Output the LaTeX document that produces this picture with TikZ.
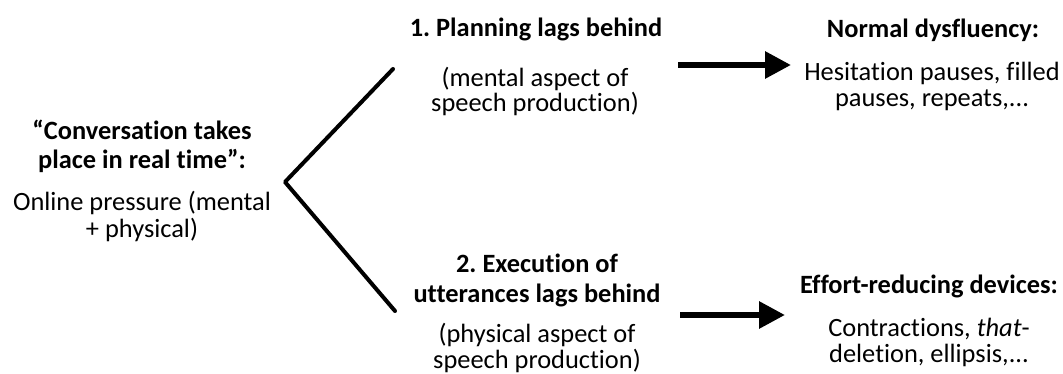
\documentclass[tikz,border=0pt]{standalone}
\usepackage{fontspec}
\setmainfont{Carlito}[Ligatures=NoCommon]
\usetikzlibrary{arrows.meta}
\frenchspacing
\begin{document}
\begin{tikzpicture}[x=1pt,y=-1pt,
  head/.style={font=\fontsize{26.4}{30}\selectfont\bfseries, align=center, inner sep=0pt, anchor=base},
  body/.style={font=\fontsize{26.4}{25.5}\selectfont, align=center, inner sep=0pt, anchor=base},
  branch/.style={line width=4pt, line cap=round, line join=round},
  flow/.style={line width=6pt, -{Triangle[length=26pt,width=26pt]}}]
\path[use as bounding box, fill=white] (0,0) rectangle (1063,374);

% left block (anchors sit on the last line's baseline)
\node[head, font=\fontsize{26.4}{29}\selectfont\bfseries] (cause) at (142,169) {“Conversation takes\\place in real time”:};
\node[body, font=\fontsize{26.4}{28}\selectfont] (causebody) at (142,238) {Online pressure (mental\\+ physical)};

% middle blocks
\node[head] (plan) at (536,37) {1. Planning lags behind};
\node[body] (planbody) at (535,112) {(mental aspect of\\speech production)};
\node[head] (exec) at (537,302) {2. Execution of\\utterances lags behind};
\node[body] (execbody) at (537,368) {(physical aspect of\\speech production)};

% right blocks
\node[head] (dys) at (933,38) {Normal dysfluency:};
\node[body, font=\fontsize{26.4}{26}\selectfont] (dysbody) at (932,107) {Hesitation pauses, filled\\pauses, repeats,...};
\node[head] (eff) at (929,293) {Effort-reducing devices:};
\node[body] (effbody) at (929,362) {Contractions, \textit{that}-\\deletion, ellipsis,...};

% branching lines
\coordinate (fork) at (285,182);
\coordinate (forkup) at (393,69);
\coordinate (forkdown) at (395,311);
\draw[branch] (forkup) -- (fork) -- (forkdown);

% arrows
\coordinate (a1s) at (678,65);
\coordinate (a1e) at (791,65);
\coordinate (a2s) at (680,315);
\coordinate (a2e) at (785,315);
\draw[flow] (a1s) -- (a1e);
\draw[flow] (a2s) -- (a2e);
\end{tikzpicture}
\end{document}
